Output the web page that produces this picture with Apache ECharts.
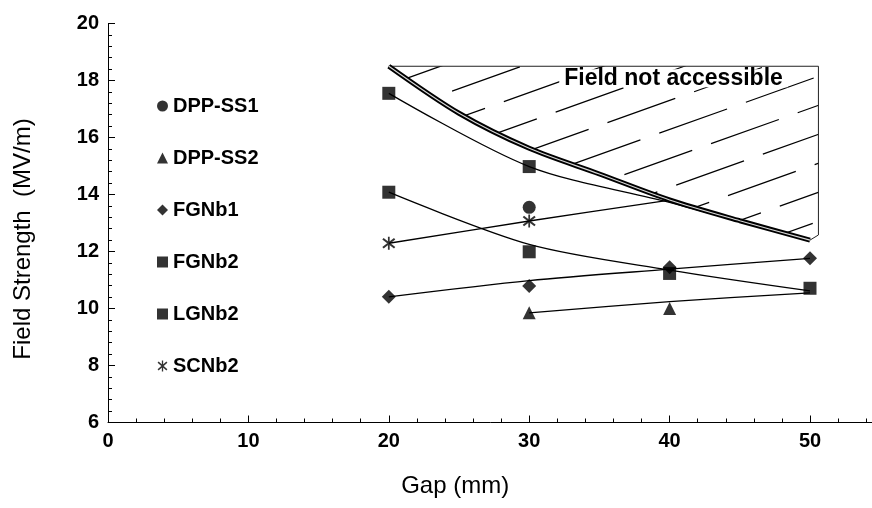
<!DOCTYPE html>
<html><head><meta charset="utf-8">
<script src="https://cdn.jsdelivr.net/npm/echarts@6/dist/echarts.min.js"></script>
<style>html,body{margin:0;padding:0;background:#fff}#c{width:872px;height:508px}</style>
</head><body><div id="c"></div>
<script>
// ---- data ----
const seriesNames = ['DPP-SS1','DPP-SS2','FGNb1','FGNb2','LGNb2','SCNb2'];
const dppSS1 = [[30, 13.55]];
const dppSS2 = [[30, 9.85], [40, 10.0]];
const fgnb1  = [[20, 10.41], [30, 10.79], [40, 11.45], [50, 11.76]];
const fgnb2  = [[20, 17.55], [30, 14.98]];
const lgnb2  = [[20, 14.08], [30, 11.99], [40, 11.23], [50, 10.71]];
const scnb2  = [[20, 12.29], [30, 13.07]];
// trend lines drawn through the points
const dppSS2Trend = [[30, 9.85], [40, 10.24], [50, 10.55]];
const fgnb1Trend  = [[20, 10.41], [30, 10.98], [40, 11.38], [50, 11.76]];
const fgnb2Trend  = [[20, 17.55], [30, 14.98], [40, 13.72], [50, 12.38]];
const lgnb2Trend  = [[20, 14.08], [30, 12.25], [40, 11.35], [50, 10.62]];
const scnb2Trend  = [[20, 12.29], [30, 13.07], [40, 13.8]];
// limit curve ("Field not accessible" boundary)
const boundary = [[20, 18.5], [25, 16.85], [30, 15.62], [35, 14.72], [40, 13.81], [45, 13.08], [50, 12.4]];
const regionTop = 18.5;
const regionRight = 50.6;
const regionRightBottom = 12.58;
const annotation = [[40.28, 18.08]];
const annotationText = 'Field not accessible';

// ---- hatch pattern ----
const W = 872, H = 508;
const hatch = document.createElement('canvas');
hatch.width = W; hatch.height = H;
(function(){
  const ctx = hatch.getContext('2d');
  ctx.strokeStyle = '#000';
  ctx.lineWidth = 1.2;
  const s = 0.357;
  for (let k = -40; k <= 40; k++) {
    const c = 484.5 + 29 * k;
    ctx.setLineDash([72, 20]);
    ctx.lineDashOffset = ((k * 37) % 92 + 92) % 92;
    ctx.beginPath();
    ctx.moveTo(0, c);
    ctx.lineTo(W, c - s * W);
    ctx.stroke();
  }
})();

// star (asterisk) symbol
const starPath = 'path://M8.8,0L11.2,0L11.2,20L8.8,20Z M2.9,1.9L18.9,15.9L17.1,18.1L1.1,4.1Z M18.9,4.1L2.9,18.1L1.1,15.9L17.1,1.9Z';

const chart = echarts.init(document.getElementById('c'), null, {renderer: 'canvas'});
const black = '#000';
function trend(data) {
  return {type: 'line', data: data, smooth: 0.3, symbol: 'none',
    lineStyle: {color: black, width: 1.3}, silent: true, z: 3};
}
function marks(name, data, symbol, size) {
  return {type: 'scatter', name: name, data: data, symbol: symbol, symbolSize: size,
    itemStyle: {color: black}, z: 5};
}
const fontFam = 'Liberation Sans, Arial, sans-serif';
chart.setOption({
  animation: false,
  backgroundColor: '#fff',
  grid: {left: 108, top: 23.5, bottom: 85.5, width: 842.4, containLabel: false, outerBoundsMode: 'none'},
  xAxis: {
    type: 'value', min: 0, max: 60, interval: 10,
    name: 'Gap (mm)', nameLocation: 'middle', nameGap: 52,
    nameTextStyle: {fontFamily: fontFam, fontSize: 24, color: black, padding: [0, 148, 0, 0]},
    axisLine: {lineStyle: {color: black, width: 1}},
    axisTick: {inside: true, length: 7, lineStyle: {color: black}},
    minorTick: {show: true, splitNumber: 5, length: 4, lineStyle: {color: black}},
    axisLabel: {fontFamily: fontFam, fontSize: 20, fontWeight: 'bold', color: black, margin: 9},
    splitLine: {show: false}
  },
  yAxis: {
    type: 'value', min: 6, max: 20, interval: 2,
    name: 'Field Strength  (MV/m)', nameLocation: 'middle', nameGap: 73, nameRotate: 90,
    nameTextStyle: {fontFamily: fontFam, fontSize: 24, color: black, padding: [0, 32, 0, 0]},
    axisLine: {show: true, lineStyle: {color: black, width: 1}},
    axisTick: {show: true, inside: true, length: 7, lineStyle: {color: black}},
    minorTick: {show: true, splitNumber: 5, length: 4, lineStyle: {color: black}},
    axisLabel: {fontFamily: fontFam, fontSize: 20, fontWeight: 'bold', color: black, margin: 9},
    splitLine: {show: false}
  },
  legend: {
    orient: 'vertical', left: 152, top: 91, itemGap: 32, itemWidth: 11, itemHeight: 11,
    data: seriesNames,
    textStyle: {fontFamily: fontFam, fontSize: 20, fontWeight: 'bold', color: black, lineHeight: 20}
  },
  series: [
    {
      type: 'custom', silent: true, z: 1, data: [[boundary[0][0], regionTop]],
      renderItem: function (params, api) {
        const pts = [];
        pts.push(api.coord([boundary[0][0], regionTop]));
        pts.push(api.coord([regionRight, regionTop]));
        pts.push(api.coord([regionRight, regionRightBottom]));
        for (let i = boundary.length - 1; i >= 0; i--) pts.push(api.coord(boundary[i]));
        return {type: 'polygon', shape: {points: pts},
          style: {fill: {image: hatch, repeat: 'no-repeat'}, stroke: '#222', lineWidth: 1}};
      }
    },
    {type: 'line', data: boundary, smooth: 0.3, symbol: 'none',
      lineStyle: {color: black, width: 5}, silent: true, z: 4},
    {type: 'line', data: boundary, smooth: 0.3, symbol: 'none',
      lineStyle: {color: '#d8d8d8', width: 1.1}, silent: true, z: 4},
    trend(dppSS2Trend), trend(fgnb1Trend), trend(fgnb2Trend), trend(lgnb2Trend), trend(scnb2Trend),
    marks('DPP-SS1', dppSS1, 'circle', 13),
    marks('DPP-SS2', dppSS2, 'triangle', 13),
    marks('FGNb1', fgnb1, 'diamond', 14),
    marks('FGNb2', fgnb2, 'rect', 13),
    marks('LGNb2', lgnb2, 'rect', 13),
    marks('SCNb2', scnb2, starPath, 13),
    {type: 'scatter', data: annotation, symbol: 'rect', symbolSize: 1, silent: true, z: 6,
      itemStyle: {color: '#fff', opacity: 1},
      label: {show: true, position: 'inside', formatter: annotationText,
        fontFamily: fontFam, fontSize: 23, fontWeight: 'bold', color: '#000', lineHeight: 18,
        textBorderWidth: 0, backgroundColor: '#fff', padding: [0, 5]}}
  ]
});
</script></body></html>
